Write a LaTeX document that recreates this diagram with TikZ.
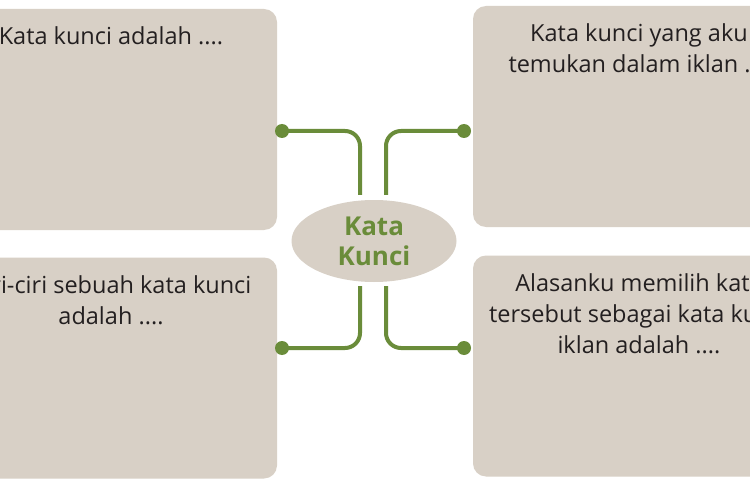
\documentclass[tikz,border=0pt]{standalone}
\usepackage{fontspec}
\setmainfont{Open Sans}
\usetikzlibrary{positioning,shapes.geometric}
\definecolor{boxgray}{RGB}{216,208,198}
\definecolor{leafgreen}{RGB}{106,140,58}
\definecolor{inkdark}{RGB}{35,31,32}
\tikzset{
  card/.style={fill=boxgray, rounded corners=13pt, minimum width=332pt, minimum height=221pt, inner sep=0pt},
  cardtext/.style={text=inkdark, align=center, inner sep=0pt, font=\fontsize{23.5}{31}\selectfont},
  dot/.style={circle, fill=leafgreen, inner sep=0pt, minimum size=14pt},
  link/.style={draw=leafgreen, line width=4pt, rounded corners=15pt}
}
\begin{document}
\begin{tikzpicture}[x=1pt,y=-1pt]
  \useasboundingbox[fill=white] (0,0) rectangle (750,500);
  \node[card] (tl) at (111,119.5) {};
  \node[card] (bl) at (111,368) {};
  \node[card] (tr) at (639,116.5) {};
  \node[card] (br) at (639,366) {};
  \node[cardtext, below=18pt of tl.north] (tlt) {Kata kunci adalah ....};
  \node[cardtext, below=18pt of tr.north] (trt) {Kata kunci yang aku\\temukan dalam iklan ....};
  \node[cardtext, below=18pt of bl.north] (blt) {Ciri-ciri sebuah kata kunci\\adalah ....};
  \node[cardtext, below=18pt of br.north] (brt) {Alasanku memilih kata\\tersebut sebagai kata kunci\\iklan adalah ....};
  \node[fill=boxgray, ellipse, minimum width=165pt, minimum height=82pt, inner sep=0pt,
        text=leafgreen, align=center, font=\bfseries\fontsize{26}{30}\selectfont] (kk) at (374,241) {Kata\\Kunci};
  \coordinate (kktl) at (360,195);
  \coordinate (kktr) at (386,195);
  \coordinate (kkbl) at (360,286);
  \coordinate (kkbr) at (386,286);
  \node[dot] (dtl) at (282,131) {};
  \node[dot] (dtr) at (464,131) {};
  \node[dot] (dbl) at (282,348) {};
  \node[dot] (dbr) at (464,348) {};
  \begin{scope}[link]
    \draw (kktl) |- (dtl.center);
    \draw (kktr) |- (dtr.center);
    \draw (kkbl) |- (dbl.center);
    \draw (kkbr) |- (dbr.center);
  \end{scope}
\end{tikzpicture}
\end{document}
